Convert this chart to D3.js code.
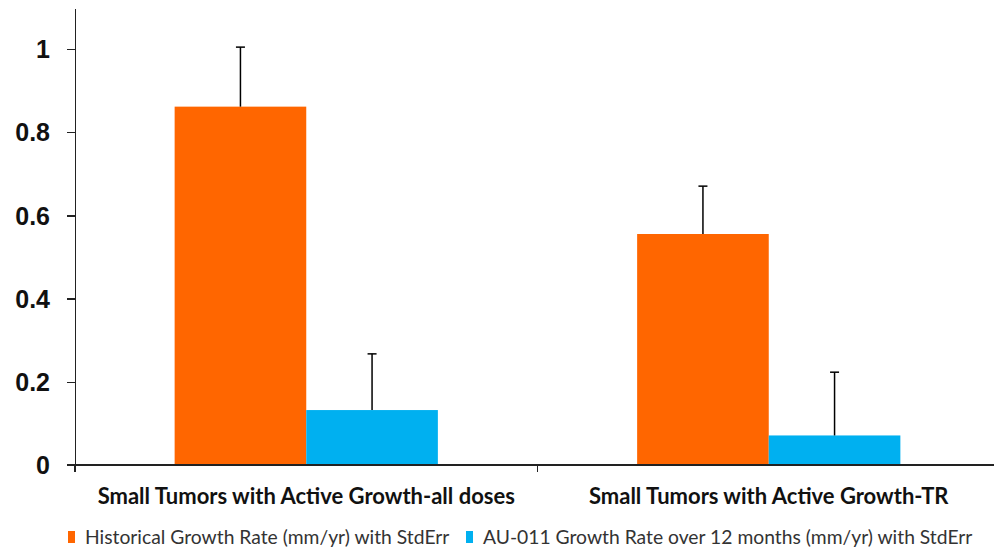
<!DOCTYPE html>
<html lang="en">
<head>
  <meta charset="UTF-8">
  <title>Small Tumor Growth Rates</title>
  <style>
    body { margin: 0; background: #fff; font-family: Lato, "Open Sans", sans-serif; }
    .axis path, .axis line { stroke: #222; stroke-width: 1.5; shape-rendering: crispEdges; }
    .y.axis text { font-size: 25px; font-weight: bold; fill: #111; }
    .x.axis text { font-size: 22px; font-weight: bold; fill: #111; }
    .legend text { font-size: 19.3px; fill: #333; }
  </style>
  <script src="https://d3js.org/d3.v7.min.js"></script>
</head>
<body>
<svg id="chart"></svg>
<script>
  // Data
  const categories = ["Small Tumors with Active Growth-all doses", "Small Tumors with Active Growth-TR"];
  const seriesNames = ["Historical Growth Rate (mm/yr) with StdErr", "AU-011 Growth Rate over 12 months (mm/yr) with StdErr"];
  const historical = [0.861, 0.555];
  const historicalErr = [0.143, 0.115];
  const au011 = [0.132, 0.071];
  const au011Err = [0.135, 0.152];
  const yTicks = [0, 0.2, 0.4, 0.6, 0.8, 1];
  const colors = ["#FF6600", "#00B0F0"];

  const W = 994, H = 552;
  const margin = {top: 8, right: -6, bottom: 87, left: 75};
  const width = W - margin.left - margin.right;
  const height = H - margin.top - margin.bottom;

  const svg = d3.select("#chart").attr("width", W).attr("height", H);
  const g = svg.append("g").attr("transform", `translate(${margin.left},${margin.top})`);

  const x = d3.scaleBand().domain(categories).range([0, width]).paddingInner(0).paddingOuter(0);
  const xs = d3.scaleBand().domain([0, 1]).range([0, x.bandwidth()]).paddingInner(0).paddingOuter(0.757);
  const y = d3.scaleLinear().domain([0, 1.098]).range([height, 0]);

  const rows = [];
  categories.forEach((c, i) => {
    rows.push({cat: c, s: 0, v: historical[i], e: historicalErr[i]});
    rows.push({cat: c, s: 1, v: au011[i], e: au011Err[i]});
  });

  // Bars
  g.selectAll("rect.bar").data(rows).join("rect")
    .attr("class", "bar")
    .attr("x", d => x(d.cat) + xs(d.s))
    .attr("y", d => y(d.v))
    .attr("width", xs.bandwidth())
    .attr("height", d => y(0) - y(d.v))
    .attr("fill", d => colors[d.s]);

  // Error bars (plus direction only)
  const eb = g.selectAll("g.err").data(rows).join("g").attr("class", "err")
    .attr("transform", d => `translate(${x(d.cat) + xs(d.s) + xs.bandwidth() / 2},0)`);
  eb.append("line").attr("x1", 0).attr("x2", 0)
    .attr("y1", d => y(d.v)).attr("y2", d => y(d.v + d.e))
    .attr("stroke", "#000").attr("stroke-width", 1.5);
  eb.append("line").attr("x1", -4.5).attr("x2", 4.5)
    .attr("y1", d => y(d.v + d.e)).attr("y2", d => y(d.v + d.e))
    .attr("stroke", "#000").attr("stroke-width", 1.5);

  // Y axis
  g.append("g").attr("class", "y axis")
    .call(d3.axisLeft(y).tickValues(yTicks).tickSize(8).tickPadding(17).tickSizeOuter(0)
      .tickFormat(d => d3.format("")(d)))
    .call(a => a.selectAll("text").attr("dy", "0.35em"));

  // X axis with tick marks at category boundaries
  const xAxis = g.append("g").attr("class", "x axis").attr("transform", `translate(0,${height})`);
  xAxis.append("line").attr("x1", -8).attr("x2", width).attr("y1", 0).attr("y2", 0);
  const boundaries = categories.map(c => x(c)).concat([width]);
  xAxis.selectAll("line.tick").data(boundaries).join("line").attr("class", "tick")
    .attr("x1", d => d).attr("x2", d => d).attr("y1", 0).attr("y2", 7);
  xAxis.selectAll("text").data(categories).join("text")
    .attr("x", d => x(d) + x.bandwidth() / 2)
    .attr("y", 39)
    .attr("text-anchor", "middle")
    .text(d => d);

  // Legend
  const legend = svg.append("g").attr("class", "legend").attr("transform", `translate(0,${H - 15})`);
  const legendX = [68, 466];
  seriesNames.forEach((n, i) => {
    legend.append("rect").attr("x", legendX[i]).attr("y", -6).attr("width", 7).attr("height", 12).attr("fill", colors[i]);
    legend.append("text").attr("x", legendX[i] + 17).attr("y", 0).attr("dy", "0.35em").text(n);
  });
</script>
</body>
</html>
